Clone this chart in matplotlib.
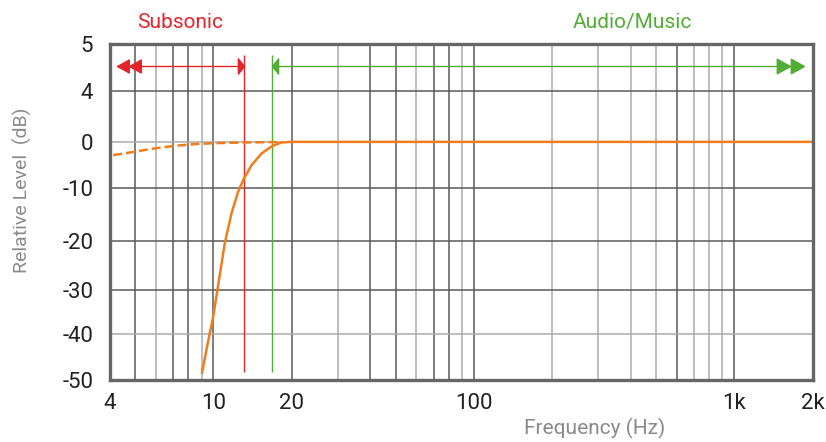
import numpy as np
import matplotlib
matplotlib.use("Agg")
from matplotlib import pyplot as plt

plt.rcParams['font.family'] = ['Roboto', 'DejaVu Sans']

# 데이터
x_ticks = [4, 10, 20, 100, 1000, 2000]
x_tick_labels = ['4', '10', '20', '100', '1k', '2k']
y_ticks = [5, 4, 0, -10, -20, -30, -40, -50]

grid_dark_x = [5, 7, 8, 10, 20, 40, 50, 70, 80, 100, 600, 1000]
grid_light_x = [6, 9, 30, 60, 90, 200, 300, 400, 500, 700, 800, 900]
grid_dark_y = [4, -10, -20, -30]
grid_light_y = [0, -40]

# 하이패스 필터 응답 (실선)
hp_freq = [9.04, 9.5, 9.97, 10.45, 11.05, 11.73, 12.43, 13.08, 14.0, 15.29, 16.79, 18.24, 19.94, 23, 30, 2000]
hp_level = [-48.4, -42.0, -36.1, -28.6, -20.4, -14.7, -10.6, -7.9, -5.0, -2.5, -0.9, -0.13, 0, 0, 0, 0]

# 필터 없는 응답 (점선)
old_freq = [4.12, 4.93, 5.9, 7.05, 8.43, 9.97, 13.0, 16.46, 18.0]
old_level = [-2.85, -2.15, -1.42, -0.86, -0.49, -0.28, -0.13, -0.06, -0.03]

subsonic_edge = 13.1   # Hz
audio_edge = 16.8      # Hz

orange = '#f07d1c'
red = '#e3242b'
green = '#52ad34'

# y축: 라벨이 거의 같은 간격으로 놓인 비선형 축 (픽셀 위치)
lv = np.array([-50, -40, -30, -20, -10, 0, 4, 5], dtype=float)
ps = np.array([0, 46, 90, 139, 191.7, 238.3, 289, 336], dtype=float)
def fwd(v):
    return np.interp(v, lv, ps)
def inv(p):
    return np.interp(p, ps, lv)

fig = plt.figure(figsize=(8.26, 4.42), dpi=100)
ax = fig.add_axes([0.133, 0.140, 0.851, 0.760])
ax.set_xscale('log')
ax.set_yscale('function', functions=(fwd, inv))
ax.set_xlim(4, 2000)
ax.set_ylim(-50, 5)

# 격자
ax.vlines(grid_dark_x, 0, 1, transform=ax.get_xaxis_transform(), color='#5a5a5a', lw=1.1, zorder=1)
ax.vlines(grid_light_x, 0, 1, transform=ax.get_xaxis_transform(), color='#ababab', lw=1.1, zorder=1)
ax.hlines(grid_dark_y, 0, 1, transform=ax.get_yaxis_transform(), color='#5a5a5a', lw=1.1, zorder=1)
ax.hlines(grid_light_y, 0, 1, transform=ax.get_yaxis_transform(), color='#ababab', lw=1.1, zorder=1)

# 곡선
ax.plot(hp_freq, hp_level, color=orange, lw=1.8, zorder=4)
ax.plot(old_freq, old_level, color=orange, lw=1.8, ls=(0, (3.6, 1.6)), zorder=4)

# 구간 표시 선과 화살표
xt = ax.get_xaxis_transform()
ax.vlines([subsonic_edge], 0.024, 0.967, transform=xt, color=red, lw=1.0, zorder=3)
ax.vlines([audio_edge], 0.024, 0.967, transform=xt, color=green, lw=1.0, zorder=3)
ay = 0.934
ax.plot([4.3, subsonic_edge], [ay, ay], transform=xt, color=red, lw=1.0, zorder=3)
ax.plot([audio_edge, 1800], [ay, ay], transform=xt, color=green, lw=1.0, zorder=3)

wide_left = [(0, 0), (1, 0.55), (1, -0.55), (0, 0)]
wide_right = [(0, 0), (-1, 0.55), (-1, -0.55), (0, 0)]
thin_left = [(0, 0), (0.4, 0.5), (0.4, -0.5), (0, 0)]
thin_right = [(0, 0), (-0.4, 0.5), (-0.4, -0.5), (0, 0)]
ax.plot([4.26, 4.73], [ay, ay], transform=xt, ls='none', marker=wide_left, ms=17, color=red, zorder=5, clip_on=False)
ax.plot([subsonic_edge], [ay], transform=xt, ls='none', marker=thin_right, ms=11, color=red, zorder=5)
ax.plot([audio_edge], [ay], transform=xt, ls='none', marker=thin_left, ms=11, color=green, zorder=5)
ax.plot([1640, 1850], [ay, ay], transform=xt, ls='none', marker=wide_right, ms=19, color=green, zorder=5, clip_on=False)

# 축 설정
ax.set_xticks(x_ticks)
ax.set_xticklabels(x_tick_labels)
ax.xaxis.set_minor_locator(matplotlib.ticker.NullLocator())
ax.set_yticks(y_ticks)
ax.set_yticklabels([str(v) for v in y_ticks])
ax.yaxis.set_minor_locator(matplotlib.ticker.NullLocator())
ax.tick_params(axis='both', length=0, labelsize=16, colors='#222222')
ax.tick_params(axis='x', pad=9)
ax.tick_params(axis='y', pad=12)
for s in ax.spines.values():
    s.set_color('#666666')
    s.set_linewidth(2.4)
    s.set_zorder(6)

fig.text(0.027, 0.57, 'Relative Level  (dB)', rotation=90, ha='center', va='center', fontsize=14, color='#8a8a8a')
fig.text(0.72, 0.03, 'Frequency (Hz)', ha='center', va='center', fontsize=15, color='#8a8a8a')
fig.text(0.218, 0.948, 'Subsonic', ha='center', va='center', fontsize=15, color=red)
fig.text(0.766, 0.948, 'Audio/Music', ha='center', va='center', fontsize=15, color=green)

plt.savefig('out.png', dpi=100)
